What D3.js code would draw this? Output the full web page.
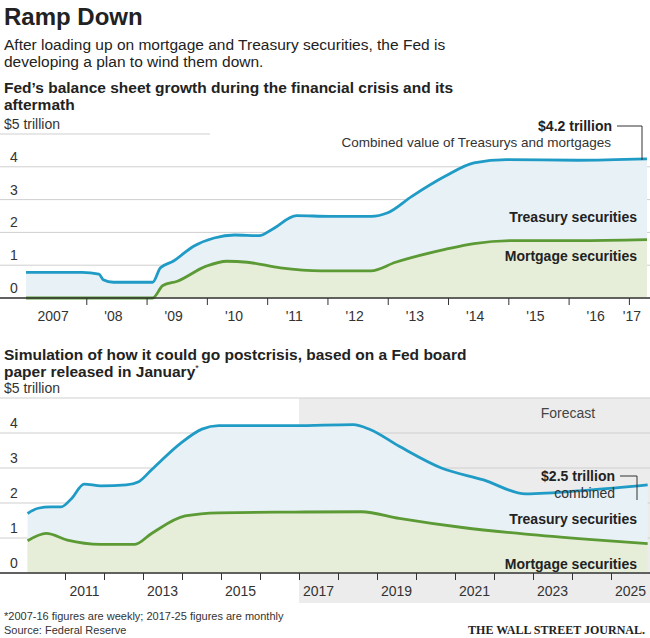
<!DOCTYPE html>
<html><head><meta charset="utf-8">
<script src="https://cdn.jsdelivr.net/npm/d3@7"></script>
<style>body{margin:0;background:#fff}svg{font-family:"Liberation Sans",Arial,sans-serif}</style>
</head><body><svg id="c" width="650" height="638"></svg>
<script>
// top chart: [year, $ trillion]
var topTotal = [[2007.0,0.78],[2007.93,0.78],[2008.21,0.73],[2008.28,0.56],[2008.45,0.48],[2009.10,0.48],[2009.23,0.92],[2009.44,1.12],[2009.78,1.58],[2010.12,1.83],[2010.46,1.92],[2010.87,1.9],[2011.08,2.09],[2011.49,2.51],[2012.04,2.49],[2012.72,2.49],[2013.0,2.6],[2013.4,3.1],[2013.95,3.71],[2014.43,4.12],[2014.97,4.22],[2016.14,4.2],[2017.3,4.24]];
var topMbs = [[2007.0,0],[2009.10,0],[2009.27,0.38],[2009.51,0.51],[2009.99,0.97],[2010.33,1.12],[2010.67,1.09],[2011.22,0.92],[2011.90,0.83],[2012.72,0.83],[2013.13,1.09],[2013.95,1.48],[2014.43,1.66],[2015.1,1.75],[2016.14,1.75],[2017.3,1.78]];
var topTicks = [2008,2009,2010,2011,2012,2013,2014,2015,2016,2017];
var topLabels = ["2007","'08","'09","'10","'11","'12","'13","'14","'15","'16","'17"];
// bottom chart
var botTotal = [[2010.04,1.70],[2010.31,1.85],[2010.63,1.89],[2010.90,1.89],[2011.17,2.13],[2011.49,2.54],[2011.92,2.49],[2012.57,2.52],[2012.89,2.61],[2013.22,2.95],[2013.97,3.71],[2014.51,4.11],[2014.94,4.21],[2015.8,4.21],[2016.88,4.21],[2018.39,4.24],[2018.82,4.10],[2019.57,3.62],[2020.65,3.0],[2021.73,2.66],[2022.81,2.26],[2024.43,2.37],[2025.94,2.52]];
var botMbs = [[2010.04,0.92],[2010.52,1.13],[2011.06,0.94],[2011.92,0.82],[2012.79,0.82],[2013.22,1.13],[2014.08,1.63],[2014.94,1.72],[2016.88,1.74],[2018.6,1.75],[2019.57,1.56],[2021.19,1.30],[2022.81,1.11],[2024.43,0.96],[2025.94,0.84]];
var botTicks = d3.range(2011, 2026);
var botLabels = [2011,2013,2015,2017,2019,2021,2023,2025];
var yTicks = [0,1,2,3,4];

var svg = d3.select("#c");
var BLUE="#1f9bc6", GREEN="#5b9a34", BFILL="#e8f1f6", GFILL="#e6eed9", GRID="#cfcfcf";

function txt(x,y,s,o){o=o||{};return svg.append("text").attr("x",x).attr("y",y).text(s)
  .attr("font-size",o.size||13).attr("font-weight",o.bold?"bold":null)
  .attr("text-anchor",o.anchor||"start").attr("fill",o.fill||"#222");}

txt(4,25,"Ramp Down",{size:24,bold:true});
txt(4,50,"After loading up on mortgage and Treasury securities, the Fed is",{size:15.5});
txt(4,67,"developing a plan to wind them down.",{size:15.5});
txt(4,93,"Fed\u2019s balance sheet growth during the financial crisis and its",{size:15.5,bold:true});
txt(4,110,"aftermath",{size:15.5,bold:true});
txt(4,360,"Simulation of how it could go postcrisis, based on a Fed board",{size:15.5,bold:true});
var t2=txt(4,377,"paper released in January",{size:15.5,bold:true});
t2.append("tspan").text("*").attr("font-size",9).attr("font-weight","normal").attr("dy",-6);

function panel(cfg){
  var x=d3.scaleLinear().domain(cfg.xd).range([cfg.x0,650]);
  var y=d3.scaleLinear().domain([0,5]).range([cfg.base,cfg.top]);
  if(cfg.shade) svg.append("rect").attr("x",x(cfg.shade)).attr("y",y(5)).attr("width",650-x(cfg.shade))
     .attr("height",cfg.shadeB-y(5)).attr("fill","#ececec");
  svg.append("line").attr("x1",0).attr("x2",cfg.topLineEnd).attr("y1",y(5)).attr("y2",y(5)).attr("stroke",GRID);
  svg.selectAll(null).data(yTicks).enter().append("line").attr("x1",0).attr("x2",650)
     .attr("y1",d=>y(d)).attr("y2",d=>y(d)).attr("stroke",GRID);
  var area=d3.area().curve(d3.curveMonotoneX).x(d=>x(d[0])).y0(y(0)).y1(d=>y(d[1]));
  var line=d3.line().curve(d3.curveMonotoneX).x(d=>x(d[0])).y(d=>y(d[1]));
  svg.append("path").attr("d",area(cfg.total)).attr("fill",BFILL);
  svg.append("path").attr("d",area(cfg.mbs)).attr("fill",GFILL);
  svg.append("path").attr("d",line(cfg.total)).attr("fill","none").attr("stroke",BLUE).attr("stroke-width",2.8);
  svg.append("path").attr("d",line(cfg.mbs)).attr("fill","none").attr("stroke",GREEN).attr("stroke-width",2.8);
  svg.selectAll(null).data(yTicks).enter().append("text").attr("x",10).attr("y",d=>y(d)-5)
     .attr("font-size",14).attr("fill","#333").text(d=>d);
  txt(4,y(5)-5,"$5 trillion",{size:14,fill:"#333"});
  svg.append("line").attr("x1",0).attr("x2",650).attr("y1",y(0)).attr("y2",y(0)).attr("stroke","#333").attr("stroke-width",1.3);
  var ax=svg.append("g").attr("transform","translate(0,"+y(0)+")")
     .call(d3.axisBottom(x).tickValues(cfg.ticks).tickSize(7).tickFormat(""));
  ax.select(".domain").remove(); ax.selectAll("line").attr("stroke","#333");
  cfg.labels.forEach(function(l){txt(x(l[0]),y(0)+23,l[1],{size:14,anchor:"middle",fill:"#333"});});
  return {x:x,y:y};
}

panel({xd:[2007,2017.35],x0:26,base:298,top:134,total:topTotal,mbs:topMbs,ticks:topTicks,topLineEnd:210,
  labels:topLabels.map(function(l,i){return [i==10?2017.05:2007.45+i, l];})});
panel({xd:[2010,2026],x0:26,base:573,top:398,total:botTotal,mbs:botMbs,ticks:botTicks,topLineEnd:650,
  shade:2017,shadeB:603,labels:botLabels.map(function(d){return [d+0.5,String(d)];})});

txt(612,131,"$4.2 trillion",{size:14,bold:true,anchor:"end"});
txt(611,147,"Combined value of Treasurys and mortgages",{size:13.5,anchor:"end",fill:"#333"});
svg.append("path").attr("d","M617,126H642V160").attr("fill","none").attr("stroke","#333");
txt(637,222,"Treasury securities",{size:14,bold:true,anchor:"end"});
txt(637,261,"Mortgage securities",{size:14,bold:true,anchor:"end"});

txt(568,418,"Forecast",{size:14,anchor:"middle",fill:"#444"});
txt(615,481,"$2.5 trillion",{size:14,bold:true,anchor:"end"});
txt(615,498,"combined",{size:14,anchor:"end",fill:"#333"});
svg.append("path").attr("d","M620,476H637V500").attr("fill","none").attr("stroke","#333");
txt(637,524,"Treasury securities",{size:14,bold:true,anchor:"end"});
txt(637,569,"Mortgage securities",{size:14,bold:true,anchor:"end"});

txt(4,620,"*2007-16 figures are weekly; 2017-25 figures are monthly",{size:11,fill:"#333"});
txt(4,634,"Source: Federal Reserve",{size:11,fill:"#333"});
txt(645,634,"THE WALL STREET JOURNAL.",{size:12,bold:true,anchor:"end",fill:"#222"}).attr("font-family","Liberation Serif");
</script></body></html>
